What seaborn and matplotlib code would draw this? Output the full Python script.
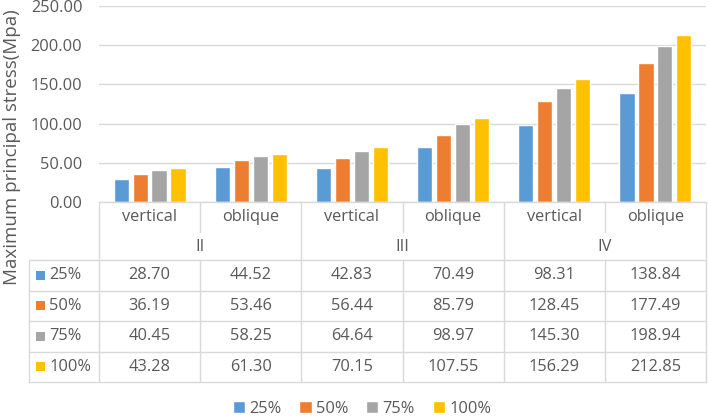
import numpy as np
import pandas as pd
import matplotlib
matplotlib.use("Agg")
import matplotlib.pyplot as plt
import seaborn as sns

groups = ["II", "III", "IV"]
kinds = ["vertical", "oblique"]
series = ["25%", "50%", "75%", "100%"]
p25 = [28.70, 44.52, 42.83, 70.49, 98.31, 138.84]
p50 = [36.19, 53.46, 56.44, 85.79, 128.45, 177.49]
p75 = [40.45, 58.25, 64.64, 98.97, 145.30, 198.94]
p100 = [43.28, 61.30, 70.15, 107.55, 156.29, 212.85]
colors = ["#5B9BD5", "#ED7D31", "#A5A5A5", "#FFC000"]
yticks = [0, 50, 100, 150, 200, 250]

cats = [g + "-" + k for g in groups for k in kinds]
rows = []
for name, vals in zip(series, [p25, p50, p75, p100]):
    for c, v in zip(cats, vals):
        rows.append({"cat": c, "level": name, "stress": v})
df = pd.DataFrame(rows)

sns.set_style("white")
plt.rcParams["font.family"] = ["Open Sans", "DejaVu Sans"]
txt = "#595959"
grid = "#D9D9D9"
fs = 11.8

W, H = 708, 419
fig = plt.figure(figsize=(W / 100, H / 100), dpi=100)

# plot area in pixels
L, R, T, B = 99, 706, 6, 202
ax = fig.add_axes([L / W, 1 - B / H, (R - L) / W, (B - T) / H])
sns.barplot(data=df, x="cat", y="stress", hue="level", palette=colors,
            width=0.75, gap=0.2, ax=ax, saturation=1)
ax.set_ylim(0, 250)
ax.set_xlim(-0.5, len(cats) - 0.5)
ax.set_yticks(yticks)
ax.set_yticklabels(["%.2f" % t for t in yticks], color=txt, fontsize=fs)
ax.tick_params(axis="y", length=0, pad=12)
ax.set_xticks([])
ax.set_xlabel("")
ax.set_ylabel("")
ax.yaxis.grid(True, color=grid, linewidth=1)
ax.set_axisbelow(True)
for s in ax.spines.values():
    s.set_visible(False)
handles, labels = ax.get_legend_handles_labels()
ax.get_legend().remove()

fig.text(12 / W, 1 - 147 / H, "Maximum principal stress(Mpa)", rotation=90,
         ha="center", va="center", color=txt, fontsize=13.5)

# data table under the plot
tab = fig.add_axes([0, 0, 1, 1])
tab.set_xlim(0, W)
tab.set_ylim(H, 0)
tab.axis("off")
tab.patch.set_alpha(0)

colw = (R - L) / len(cats)
edges = [L + i * colw for i in range(len(cats) + 1)]
TL = 29
hdr1, hdr2 = 232, 260
rowy = [260, 290.7, 321, 351.5, 382]

lk = dict(color=grid, linewidth=1)
tab.plot([L, R], [B, B], **lk)
tab.plot([TL, R], [hdr2, hdr2], **lk)
for y in rowy[1:]:
    tab.plot([TL, R], [y, y], **lk)
tab.plot([TL, TL], [hdr2, rowy[-1]], **lk)
for i, x in enumerate(edges):
    if i % 2 == 0:
        tab.plot([x, x], [B, rowy[-1]], **lk)
    else:
        tab.plot([x, x], [B, hdr1], **lk)
        tab.plot([x, x], [hdr2, rowy[-1]], **lk)

for i, c in enumerate(cats):
    xc = (edges[i] + edges[i + 1]) / 2
    tab.text(xc, (B + hdr1) / 2, c.split("-")[1], ha="center", va="center",
             color=txt, fontsize=fs)
for j, g in enumerate(groups):
    xc = (edges[2 * j] + edges[2 * j + 2]) / 2
    tab.text(xc, (hdr1 + hdr2) / 2 + 1, g, ha="center", va="center",
             color=txt, fontsize=fs)

for r, (name, vals, col) in enumerate(zip(series, [p25, p50, p75, p100], colors)):
    yc = (rowy[r] + rowy[r + 1]) / 2
    tab.add_patch(plt.Rectangle((36, yc - 4.5), 9, 9, color=col, lw=0))
    tab.text(49, yc, name, ha="left", va="center", color=txt, fontsize=fs)
    for i, v in enumerate(vals):
        xc = (edges[i] + edges[i + 1]) / 2
        tab.text(xc, yc, "%.2f" % v, ha="center", va="center", color=txt, fontsize=fs)

fig.legend(handles, labels, loc="center", bbox_to_anchor=(362 / W, 1 - 409 / H),
           ncol=4, frameon=False, fontsize=fs, labelcolor=txt,
           handlelength=0.75, handleheight=0.75, handletextpad=0.25, columnspacing=1.1)

fig.savefig("out.png", dpi=100)
